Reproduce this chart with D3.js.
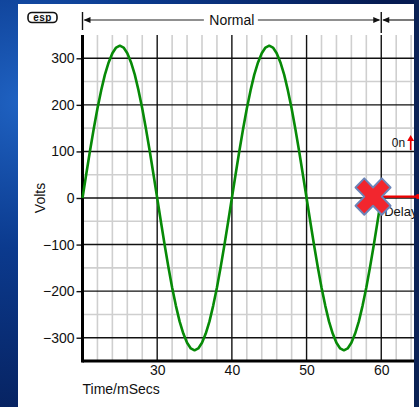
<!DOCTYPE html>
<html>
<head>
<meta charset="utf-8">
<script src="https://cdn.jsdelivr.net/npm/d3@7"></script>
<style>
html,body{margin:0;padding:0;overflow:hidden;background:#0a2f7a;}
svg{display:block;}
text{font-family:"Liberation Sans",Arial,sans-serif;}
</style>
</head>
<body>
<svg id="chart" width="419" height="407"></svg>
<script>
// ---- data ----
const timeStart = 20, timeStep = 0.5;           // ms, sampling of the trace
const volts = [
  0, 51, 101, 148, 192, 231, 265, 291, 311, 323, 327,
  323, 311, 291, 265, 231, 192, 148, 101, 51, 0,
  -51, -101, -148, -192, -231, -265, -291, -311, -323, -327,
  -323, -311, -291, -265, -231, -192, -148, -101, -51, 0,
  51, 101, 148, 192, 231, 265, 291, 311, 323, 327,
  323, 311, 291, 265, 231, 192, 148, 101, 51, 0,
  -51, -101, -148, -192, -231, -265, -291, -311, -323, -327,
  -323, -311, -291, -265, -231, -192, -148, -101, -51, 0
];
const xTicks = [30, 40, 50, 60];
const yTicks = [-300, -200, -100, 0, 100, 200, 300];
const xMinor = [22, 24, 26, 28, 32, 34, 36, 38, 42, 44, 46, 48, 52, 54, 56, 58, 62, 64];
const yMinor = [-250, -150, -50, 50, 150, 250];
const normalSpan = [20, 60];        // "Normal" period, ms
const faultPoint = {t: 58.9, v: 3}; // red cross marker
const onPoint = {t: 63.2, v: 120};  // "0n" label position
const delayLabel = {t: 60.4, v: -30};

// ---- layout ----
const svg = d3.select("#chart");
const W = 419, H = 407;
const panel = {x0: 18, y0: 4, x1: 414, y1: 407};
const x = d3.scaleLinear().domain([20, 65]).range([82.5, 418.6]);
const y = d3.scaleLinear().domain([-350, 350]).range([361, 35]);

// background
const defs = svg.append("defs");
const grad = defs.append("radialGradient").attr("id","bg").attr("cx","0.05").attr("cy","0.25").attr("r","0.9");
grad.append("stop").attr("offset","0%").attr("stop-color","#1f62c2");
grad.append("stop").attr("offset","40%").attr("stop-color","#0b3a8e");
grad.append("stop").attr("offset","100%").attr("stop-color","#061b52");
svg.append("rect").attr("width",W).attr("height",H).attr("fill","url(#bg)");
svg.append("rect").attr("x",panel.x1).attr("y",0).attr("width",W-panel.x1).attr("height",H).attr("fill","#0b2255");

// white panel
svg.append("rect").attr("x",panel.x0).attr("y",panel.y0)
  .attr("width",panel.x1-panel.x0).attr("height",panel.y1-panel.y0).attr("fill","#fff");

defs.append("clipPath").attr("id","clip").append("rect")
  .attr("x",x(20)).attr("y",y(350)).attr("width",panel.x1-x(20)).attr("height",y(-350)-y(350));
defs.append("clipPath").attr("id","pclip").append("rect")
  .attr("x",panel.x0).attr("y",panel.y0).attr("width",panel.x1-panel.x0).attr("height",panel.y1-panel.y0);

const grid = svg.append("g").attr("clip-path","url(#clip)");
// minor grid
grid.selectAll(".vmin").data(xMinor).join("line")
  .attr("x1",d=>x(d)).attr("x2",d=>x(d)).attr("y1",y(350)).attr("y2",y(-350))
  .attr("stroke","#cfcfcf").attr("stroke-width",1.6);
grid.selectAll(".hmin").data(yMinor).join("line")
  .attr("x1",x(20)).attr("x2",panel.x1).attr("y1",d=>y(d)).attr("y2",d=>y(d))
  .attr("stroke","#cfcfcf").attr("stroke-width",1.6);
// major grid
grid.selectAll(".vmaj").data(xTicks).join("line")
  .attr("x1",d=>x(d)).attr("x2",d=>x(d)).attr("y1",y(350)).attr("y2",y(-350))
  .attr("stroke","#111").attr("stroke-width",1.4);
grid.selectAll(".hmaj").data(yTicks).join("line")
  .attr("x1",x(20)).attr("x2",panel.x1).attr("y1",d=>y(d)).attr("y2",d=>y(d))
  .attr("stroke","#111").attr("stroke-width",1.4);

// axes
const yAxis = d3.axisLeft(y).tickValues(yTicks).tickSize(6).tickPadding(2);
const gy = svg.append("g").attr("transform",`translate(${x(20)},0)`).call(yAxis);
gy.select(".domain").remove();
gy.selectAll("line").attr("stroke","#111").attr("stroke-width",1.4);
gy.selectAll("text").attr("font-size",14).attr("fill","#111")
  .attr("font-family","'Liberation Sans',Arial,sans-serif");

const xAxis = d3.axisBottom(x).tickValues(xTicks).tickSize(0).tickPadding(4);
const gx = svg.append("g").attr("transform",`translate(0,${y(-350)})`).call(xAxis);
gx.select(".domain").remove();
gx.selectAll("text").attr("font-size",14).attr("fill","#111")
  .attr("font-family","'Liberation Sans',Arial,sans-serif");

svg.append("line").attr("x1",x(20)).attr("x2",x(20)).attr("y1",y(350)).attr("y2",y(-350)+1.5)
  .attr("stroke","#000").attr("stroke-width",3);
svg.append("line").attr("x1",x(20)).attr("x2",panel.x1).attr("y1",y(-350)).attr("y2",y(-350))
  .attr("stroke","#000").attr("stroke-width",3);

// trace
const pts = volts.map((v,i)=>({t: timeStart + i*timeStep, v}));
svg.append("path").datum(pts)
  .attr("fill","none").attr("stroke","#078a07").attr("stroke-width",2.6)
  .attr("stroke-linejoin","round")
  .attr("d", d3.line().x(d=>x(d.t)).y(d=>y(d.v)));

// axis titles
svg.append("text").attr("x",x(20)).attr("y",394).attr("font-size",14).attr("fill","#111").text("Time/mSecs");
svg.append("text").attr("transform",`translate(45,${y(0)}) rotate(-90)`).attr("text-anchor","middle")
  .attr("font-size",14).attr("fill","#111").text("Volts");

// esp logo
const logo = svg.append("g");
logo.append("rect").attr("x",28).attr("y",12.5).attr("width",29).attr("height",10).attr("rx",4)
  .attr("fill","#fff").attr("stroke","#111").attr("stroke-width",1.6);
logo.append("text").attr("x",42.5).attr("y",21).attr("text-anchor","middle").attr("font-size",10)
  .attr("font-weight","bold").attr("fill","#111").attr("letter-spacing",0.5).text("esp");

// top "Normal" annotation
const annY = 20;
const topAnn = svg.append("g").attr("clip-path","url(#pclip)");
const xs = x(normalSpan[0]), xe = x(normalSpan[1]);
topAnn.append("line").attr("x1",xs).attr("x2",xs).attr("y1",12).attr("y2",30).attr("stroke","#111").attr("stroke-width",1.4);
topAnn.append("line").attr("x1",xe).attr("x2",xe).attr("y1",12).attr("y2",33).attr("stroke","#111").attr("stroke-width",1.4);
topAnn.append("line").attr("x1",xs+2).attr("x2",(xs+xe)/2-28).attr("y1",annY).attr("y2",annY).attr("stroke","#222").attr("stroke-width",1.2);
topAnn.append("line").attr("x1",(xs+xe)/2+26).attr("x2",xe-2).attr("y1",annY).attr("y2",annY).attr("stroke","#222").attr("stroke-width",1.2);
topAnn.append("line").attr("x1",xe+2).attr("x2",panel.x1).attr("y1",annY).attr("y2",annY).attr("stroke","#222").attr("stroke-width",1.2);
const head = (xt, dir) => `M${xt},${annY} L${xt+dir*7},${annY-3} L${xt+dir*7},${annY+3} Z`;
topAnn.append("path").attr("d",head(xs+1,1)).attr("fill","#111");
topAnn.append("path").attr("d",head(xe-1,-1)).attr("fill","#111");
topAnn.append("path").attr("d",head(xe+1,1)).attr("fill","#111");
topAnn.append("text").attr("x",(xs+xe)/2).attr("y",annY+5).attr("text-anchor","middle")
  .attr("font-size",14).attr("fill","#111").text("Normal");

// right-side annotations
const ann = svg.append("g").attr("clip-path","url(#pclip)");
ann.append("text").attr("x",x(onPoint.t)).attr("y",y(onPoint.v)+5).attr("text-anchor","end")
  .attr("font-size",12).attr("fill","#111").text("0n");
const ax = x(onPoint.t)+5.5, ay = y(onPoint.v);
ann.append("line").attr("x1",ax).attr("x2",ax).attr("y1",ay-3).attr("y2",ay+8).attr("stroke","#e00").attr("stroke-width",1.6);
ann.append("path").attr("d",`M${ax},${ay-7} L${ax-3.5},${ay-1} L${ax+3.5},${ay-1} Z`).attr("fill","#e00");
ann.append("text").attr("x",x(delayLabel.t)).attr("y",y(delayLabel.v)+4)
  .attr("font-size",13).attr("fill","#111").text("Delay");

// red line from cross
const fx = x(faultPoint.t), fy = y(faultPoint.v);
svg.append("line").attr("x1",fx).attr("x2",W).attr("y1",fy).attr("y2",fy).attr("stroke","#e00").attr("stroke-width",2.2);
svg.append("circle").attr("cx",W-1).attr("cy",fy).attr("r",2.5).attr("fill","#e00");

// red cross marker
const s = 13, w = 6.5;
const cross = `M${-s},${-s+w} L${-s+w},${-s} L0,${-w} L${s-w},${-s} L${s},${-s+w} L${w},0 L${s},${s-w} L${s-w},${s} L0,${w} L${-s+w},${s} L${-s},${s-w} L${-w},0 Z`;
svg.append("path").attr("transform",`translate(${fx},${fy}) scale(1.35,1.4)`)
  .attr("d",cross).attr("fill","#f2262e").attr("stroke","#6b84b8").attr("stroke-width",1.4)
  .attr("stroke-linejoin","round");
</script>
</body>
</html>
